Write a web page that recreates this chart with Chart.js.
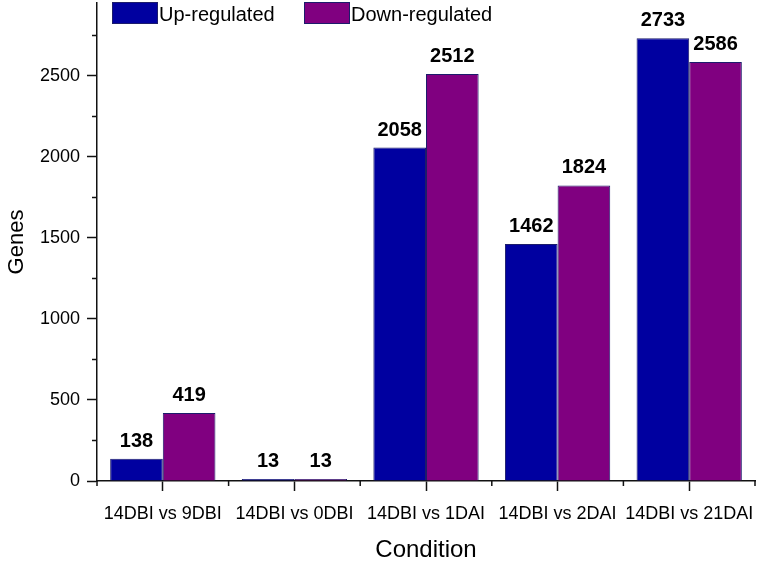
<!DOCTYPE html>
<html lang="en">
<head>
  <meta charset="UTF-8">
  <title>Genes by condition</title>
  <script src="https://cdn.jsdelivr.net/npm/chart.js"></script>
</head>
<style>
  body { margin: 0; background: #fff; }
  #wrap { width: 758px; height: 562px; }
</style>
<body>

<div id="wrap">
  <canvas id="genesChart" width="758" height="562"></canvas>
</div>

<script>
  // data
  const conditions = ['14DBI vs 9DBI', '14DBI vs 0DBI', '14DBI vs 1DAI', '14DBI vs 2DAI', '14DBI vs 21DAI'];
  const upRegulated = [138, 13, 2058, 1462, 2733];
  const downRegulated = [419, 13, 2512, 1824, 2586];
  const yTicks = [0, 500, 1000, 1500, 2000, 2500];
  const yMinorTicks = [250, 750, 1250, 1750, 2250, 2750];

  const FONT = "'Liberation Sans', Arial, sans-serif";
  const seriesNames = ['Up-regulated', 'Down-regulated'];
  const fills = ['#0000a0', '#800080'];
  const edge = '#1c1c6b';

  // value labels over each bar
  const barLabels = {
    id: 'barLabels',
    afterDatasetsDraw(chart) {
      const ctx = chart.ctx;
      ctx.save();
      ctx.font = 'bold 20px ' + FONT;
      ctx.fillStyle = '#000';
      ctx.textAlign = 'center';
      ctx.textBaseline = 'alphabetic';
      chart.data.datasets.forEach((ds, i) => {
        chart.getDatasetMeta(i).data.forEach((bar, j) => {
          ctx.fillText(ds.data[j], bar.x, bar.y - 12);
        });
      });
      ctx.restore();
    }
  };

  // short minor ticks + legend drawn inside the plot like the original
  const extras = {
    id: 'extras',
    afterDraw(chart) {
      const ctx = chart.ctx;
      const y = chart.scales.y;
      const area = chart.chartArea;
      ctx.save();
      ctx.strokeStyle = '#111';
      ctx.lineWidth = 1.5;
      ctx.beginPath();
      yMinorTicks.forEach(v => {
        const py = y.getPixelForValue(v);
        ctx.moveTo(area.left - 5, py);
        ctx.lineTo(area.left, py);
      });
      const step = (area.right - area.left) / conditions.length;
      for (let k = 0; k <= conditions.length; k++) {
        const px = area.left + k * step;
        ctx.moveTo(px, area.bottom);
        ctx.lineTo(px, area.bottom + 5);
      }
      ctx.stroke();

      // legend
      ctx.font = '20px ' + FONT;
      ctx.textBaseline = 'alphabetic';
      ctx.textAlign = 'left';
      const boxX = [112, 304];
      seriesNames.forEach((name, i) => {
        ctx.fillStyle = fills[i];
        ctx.fillRect(boxX[i], 2, 46, 22);
        ctx.strokeStyle = edge;
        ctx.lineWidth = 1;
        ctx.strokeRect(boxX[i] + 0.5, 2.5, 45, 21);
        ctx.fillStyle = '#000';
        ctx.fillText(name, boxX[i] + 47, 21);
      });
      ctx.restore();
    }
  };

  const genesCtx = document.getElementById('genesChart').getContext('2d');
  const genesChart = new Chart(genesCtx, {
    type: 'bar',
    data: {
      labels: conditions,
      datasets: [{
        label: seriesNames[0],
        data: upRegulated,
        backgroundColor: fills[0],
        borderColor: edge,
        borderWidth: 1
      }, {
        label: seriesNames[1],
        data: downRegulated,
        backgroundColor: fills[1],
        borderColor: edge,
        borderWidth: 1
      }]
    },
    options: {
      responsive: false,
      animation: false,
      categoryPercentage: 0.8,
      barPercentage: 1,
      layout: { padding: { top: 3, right: 3, left: 0, bottom: 0 } },
      plugins: {
        legend: { display: false },
        tooltip: { enabled: false }
      },
      scales: {
        x: {
          grid: {
            offset: false,
            drawOnChartArea: false,
            tickLength: 10,
            tickColor: '#111',
            tickWidth: 1.5
          },
          border: { color: '#111', width: 1.5 },
          ticks: {
            color: '#000',
            padding: 12,
            maxRotation: 0,
            autoSkip: false,
            font: { family: FONT, size: 18 }
          },
          title: {
            display: true,
            text: 'Condition',
            color: '#000',
            padding: { top: 0, bottom: 0 },
            font: { family: FONT, size: 24, lineHeight: 1 }
          },
          afterFit(scale) {
            scale.height = 81;
            scale.paddingLeft = 0;
            scale.paddingRight = 0;
          }
        },
        y: {
          min: 0,
          max: 2950,
          grid: {
            drawOnChartArea: false,
            tickLength: 10,
            tickColor: '#111',
            tickWidth: 1.5
          },
          border: { color: '#111', width: 1.5 },
          ticks: {
            color: '#000',
            padding: 7,
            font: { family: FONT, size: 18 },
            callback: v => String(v)
          },
          afterBuildTicks(scale) {
            scale.ticks = yTicks.map(v => ({ value: v }));
          },
          title: {
            display: true,
            text: 'Genes',
            color: '#000',
            padding: { top: 6, bottom: 0 },
            font: { family: FONT, size: 22, lineHeight: 1 }
          },
          afterFit(scale) {
            scale.width = 97;
            scale.paddingTop = 0;
            scale.paddingBottom = 0;
          }
        }
      }
    },
    plugins: [barLabels, extras]
  });
</script>
</body>
</html>
